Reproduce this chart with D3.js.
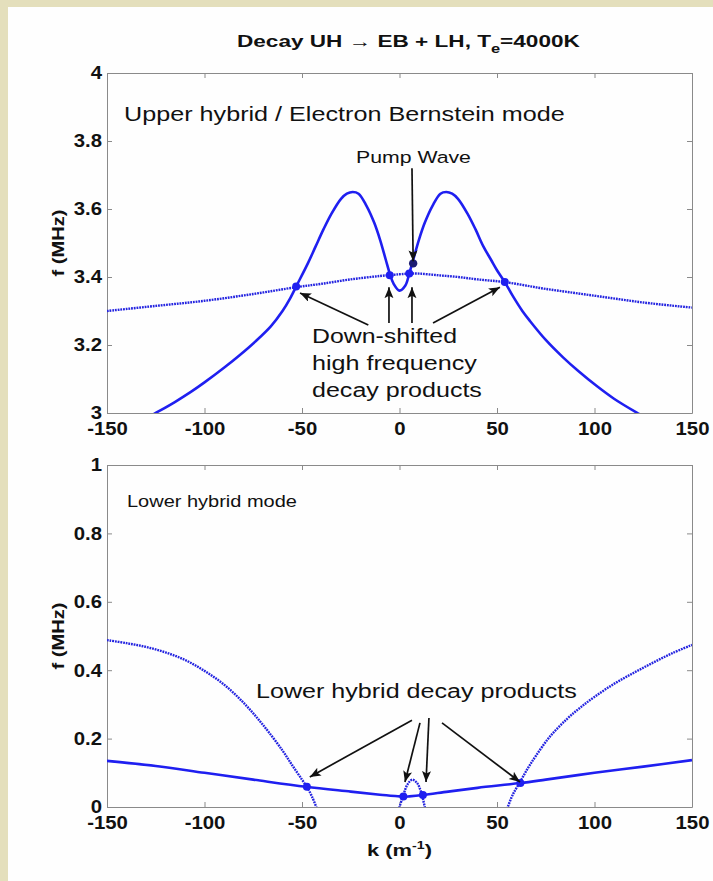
<!DOCTYPE html>
<html><head><meta charset="utf-8">
<script src="https://cdn.jsdelivr.net/npm/d3@7"></script>
<style>
html,body{margin:0;padding:0;background:#e4dfbc;}
svg{display:block;}
text{font-family:"Liberation Sans",Arial,Helvetica,sans-serif;}
</style></head>
<body>
<svg id="chart" width="713" height="881"></svg>
<script>
// ---------- data ----------
const kTicks = [-150,-100,-50,0,50,100,150];
const kTickLabels = ["-150","-100","-50","0","50","100","150"];
const fTicksTop = [3,3.2,3.4,3.6,3.8,4];
const fTickLabelsTop = ["3","3.2","3.4","3.6","3.8","4"];
const fTicksBot = [0,0.2,0.4,0.6,0.8,1];
const fTickLabelsBot = ["0","0.2","0.4","0.6","0.8","1"];

// Upper panel: electron Bernstein (solid) branch
const ebK = [-135,-125,-115,-107,-100,-90,-82,-74,-66,-60,-56,-53,-47,-43,-39,-35,-30,-27,-24,-21,-17,-13,-10,-7,-5,-3,0,3,5,7,10,13,17,21,24,27,30,35,39,43,47,50,54,58,63,67,75,84,92,101,110,122,132];
const ebF = [2.968,3.0,3.033,3.062,3.09,3.133,3.17,3.21,3.255,3.30,3.338,3.372,3.44,3.49,3.54,3.585,3.63,3.645,3.65,3.645,3.61,3.56,3.51,3.45,3.41,3.38,3.36,3.375,3.41,3.45,3.51,3.56,3.61,3.645,3.65,3.645,3.63,3.585,3.54,3.49,3.45,3.42,3.385,3.345,3.30,3.27,3.215,3.163,3.122,3.08,3.042,3.0,2.968];
// Upper panel: down-shifted matching curve (dotted)
const uhK = [-150,-125,-100,-75,-53,-40,-25,-10,0,5,10,20,30,40,54,75,100,125,150];
const uhF = [3.30,3.315,3.33,3.35,3.37,3.38,3.393,3.403,3.408,3.41,3.41,3.405,3.40,3.393,3.385,3.365,3.345,3.325,3.31];
const upperMarkK = [-53,-5,5,54];
const upperMarkF = [3.372,3.405,3.41,3.385];
const pumpK = [7];
const pumpF = [3.44];

// Lower panel: lower hybrid (solid)
const lhK = [-150,-125,-100,-75,-48,-25,-10,0,2,5,12,25,40,62,75,100,125,150];
const lhF = [0.135,0.12,0.10,0.08,0.059,0.045,0.036,0.031,0.030,0.031,0.035,0.045,0.056,0.07,0.08,0.10,0.118,0.137];
// Lower panel: matching curves (dotted)
const mLeftK = [-150,-140,-130,-120,-110,-100,-90,-80,-70,-60,-55,-50,-47.5,-45,-42];
const mLeftF = [0.488,0.479,0.468,0.452,0.43,0.398,0.358,0.305,0.24,0.165,0.122,0.08,0.059,0.032,-0.01];
const mBumpK = [-0.5,0,2,4,6.5,9,11,13,13.5];
const mBumpF = [-0.01,0.0,0.035,0.065,0.08,0.07,0.045,0.0,-0.01];
const mRightK = [54,55.5,58,62,66,70,77,86,93,100,110,120,130,140,150];
const mRightF = [-0.02,0.0,0.035,0.075,0.115,0.15,0.205,0.258,0.292,0.322,0.36,0.392,0.422,0.45,0.474];
const lowerMarkK = [-47.5,2,12,62];
const lowerMarkF = [0.059,0.031,0.035,0.07];

// annotation arrows [tailK, tailF, tipK, tipF]
const upperArrows = [[-16,3.259,-51,3.353],[-5.4,3.265,-5.4,3.37],[6.4,3.265,6.4,3.37],[17.2,3.265,51.5,3.37],[6.4,3.72,7,3.446]];
const lowerArrows = [[6.4,0.254,-46,0.088],[10.5,0.246,2.8,0.073],[15.1,0.26,13.6,0.073],[21.8,0.246,61.8,0.073]];

// ---------- drawing ----------
const svg = d3.select("#chart");
svg.append("rect").attr("x",0).attr("y",0).attr("width",713).attr("height",881).attr("fill","#e4dfbc");
svg.append("rect").attr("x",8).attr("y",7).attr("width",705).attr("height",874).attr("fill","#fefefe");

const blue = "#1f1ff0", dotBlue = "#2424e0", boxCol = "#8a8a8a";
const x = d3.scaleLinear([-150,150],[107,692]);
const yTop = d3.scaleLinear([3,4],[413,73]);
const yBot = d3.scaleLinear([0,1],[807,465]);

const defs = svg.append("defs");
defs.append("marker").attr("id","ah").attr("markerUnits","userSpaceOnUse")
  .attr("markerWidth",13).attr("markerHeight",10).attr("refX",11).attr("refY",4.5).attr("orient","auto")
  .append("path").attr("d","M0,0 L11,4.5 L0,9 L2.5,4.5 Z").attr("fill","#111");

function stretchTicks(g, s){
  g.selectAll(".tick text").each(function(){
    const t = d3.select(this);
    const tx = +t.attr("x")||0, ty = +t.attr("y")||0;
    t.attr("x",0).attr("y",0).attr("transform",`translate(${tx},${ty}) scale(${s},1)`);
  });
}

function panel(y, yTicks, yLabels, id){
  const [y0,y1] = y.range();
  defs.append("clipPath").attr("id",id).append("rect")
    .attr("x",x(-150)).attr("y",y1).attr("width",x(150)-x(-150)).attr("height",y0-y1);
  const gx = svg.append("g").attr("transform",`translate(0,${y0})`)
    .call(d3.axisBottom(x).tickValues(kTicks).tickFormat((d,i)=>kTickLabels[i]).tickSizeInner(-5).tickSizeOuter(0).tickPadding(9));
  const gxt = svg.append("g").attr("transform",`translate(0,${y1})`)
    .call(d3.axisTop(x).tickValues(kTicks).tickFormat("").tickSizeInner(-5).tickSizeOuter(0));
  const gy = svg.append("g").attr("transform",`translate(${x(-150)},0)`)
    .call(d3.axisLeft(y).tickValues(yTicks).tickFormat((d,i)=>yLabels[i]).tickSizeInner(-5).tickSizeOuter(0).tickPadding(5));
  const gyr = svg.append("g").attr("transform",`translate(${x(150)},0)`)
    .call(d3.axisRight(y).tickValues(yTicks).tickFormat("").tickSizeInner(-5).tickSizeOuter(0));
  [gx,gxt,gy,gyr].forEach(g=>{
    g.selectAll("path,line").attr("stroke",boxCol).attr("stroke-width",1);
    g.selectAll("text").attr("fill","#111").attr("font-weight","bold").attr("font-size",18.5)
      .attr("font-family","'Liberation Sans',Arial,sans-serif");
    stretchTicks(g,1.1);
  });
  const plot = svg.append("g").attr("clip-path",`url(#${id})`);
  return plot;
}

const topPlot = panel(yTop,fTicksTop,fTickLabelsTop,"clipTop");
const botPlot = panel(yBot,fTicksBot,fTickLabelsBot,"clipBot");

function curve(plot, ks, fs, y, dotted){
  const line = d3.line().x(d=>x(d[0])).y(d=>y(d[1])).curve(d3.curveCatmullRom.alpha(0.5));
  plot.append("path").datum(d3.zip(ks,fs)).attr("d",line).attr("fill","none")
    .attr("stroke",dotted?dotBlue:blue).attr("stroke-width",dotted?2.4:2.6)
    .attr("stroke-dasharray",dotted?"1.8,0.9":null).attr("stroke-linejoin","round");
}
curve(topPlot, uhK, uhF, yTop, true);
curve(topPlot, ebK, ebF, yTop, false);
curve(botPlot, lhK, lhF, yBot, false);
curve(botPlot, mLeftK, mLeftF, yBot, true);
curve(botPlot, mBumpK, mBumpF, yBot, true);
curve(botPlot, mRightK, mRightF, yBot, true);

function markers(ks, fs, y, col, r){
  svg.append("g").selectAll("circle").data(d3.zip(ks,fs)).join("circle")
    .attr("cx",d=>x(d[0])).attr("cy",d=>y(d[1])).attr("r",r).attr("fill",col);
}
markers(upperMarkK, upperMarkF, yTop, blue, 4);
markers(pumpK, pumpF, yTop, "#1c1c70", 4.2);
markers(lowerMarkK, lowerMarkF, yBot, blue, 4);

function arrows(list, y){
  svg.append("g").selectAll("line").data(list).join("line")
    .attr("x1",d=>x(d[0])).attr("y1",d=>y(d[1])).attr("x2",d=>x(d[2])).attr("y2",d=>y(d[3]))
    .attr("stroke","#111").attr("stroke-width",1.7).attr("marker-end","url(#ah)");
}
arrows(upperArrows, yTop);
arrows(lowerArrows, yBot);

// ---------- texts ----------
function label(xp, yp, parts, size, weight, targetW, rotate){
  const g = svg.append("g");
  const t = g.append("text").attr("font-size",size).attr("font-weight",weight).attr("fill","#111")
    .attr("text-anchor", rotate? "middle":"start");
  parts.forEach(p=>{
    const ts = t.append("tspan").text(p.t);
    if(p.dy) ts.attr("dy",p.dy);
    if(p.fs) ts.attr("font-size",p.fs);
  });
  const w = t.node().getComputedTextLength();
  const s = targetW ? targetW/w : 1;
  g.attr("transform",`translate(${xp},${yp})${rotate?" rotate(-90)":""} scale(${s},1)`);
}
label(237, 47, [{t:"Decay UH \u2192 EB + LH, T"},{t:"e",dy:6,fs:12},{t:"=4000K",dy:-6}], 16.5, "bold", 343);
label(124, 121, [{t:"Upper hybrid / Electron Bernstein mode"}], 21, "normal", 441);
label(356, 163, [{t:"Pump Wave"}], 17, "normal", 115);
label(312, 343, [{t:"Down-shifted"}], 21, "normal", 145);
label(312, 370, [{t:"high frequency"}], 21, "normal", 165);
label(312, 397, [{t:"decay products"}], 21, "normal", 170);
label(127, 507, [{t:"Lower hybrid mode"}], 16, "normal", 170);
label(256, 698, [{t:"Lower hybrid decay products"}], 21, "normal", 321);
label(64, 243, [{t:"f (MHz)"}], 17, "bold", 67, true);
label(64, 636, [{t:"f (MHz)"}], 17, "bold", 67, true);
label(367, 856, [{t:"k (m"},{t:"-1",dy:-7,fs:11},{t:")",dy:7}], 17, "bold", 65);
</script>
</body></html>
